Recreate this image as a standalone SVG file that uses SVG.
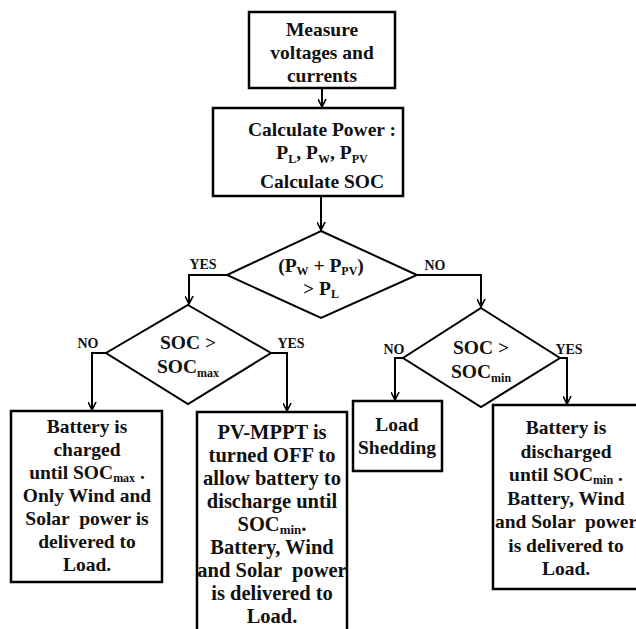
<svg xmlns="http://www.w3.org/2000/svg" width="636" height="629" viewBox="0 0 636 629">
<style>
.box{fill:#fff;stroke:#000;stroke-width:2.5}
.dia{fill:#fff;stroke:#000;stroke-width:2}
.t{font-weight:bold;font-size:19.5px;text-anchor:middle;fill:#111}
.big{font-size:20.5px}
.lbl{font-weight:bold;font-size:14px;text-anchor:middle;fill:#111}
.c{fill:none;stroke:#000;stroke-width:2}
</style>
<defs>
<marker id="ah" viewBox="0 0 10 10" refX="9" refY="5" markerWidth="9" markerHeight="9" markerUnits="userSpaceOnUse" orient="auto">
<path d="M0,0.5 L9,5 L0,9.5" fill="none" stroke="#000" stroke-width="1.8"/>
</marker>
</defs>
<rect width="636" height="629" fill="#fff"/>
<g font-family="Liberation Serif, Times New Roman, serif">
<g id="connectors">
<line class="c" x1="322" y1="88" x2="322" y2="107" marker-end="url(#ah)"/>
<line class="c" x1="321" y1="196" x2="321" y2="230" marker-end="url(#ah)"/>
<polyline class="c" points="227,275 189,275 189,304" marker-end="url(#ah)"/>
<polyline class="c" points="417,275 481,275 481,307" marker-end="url(#ah)"/>
<polyline class="c" points="106,353 92,353 92,410" marker-end="url(#ah)"/>
<polyline class="c" points="271,353 287,353 287,411" marker-end="url(#ah)"/>
<polyline class="c" points="403,358 395,358 395,400" marker-end="url(#ah)"/>
<polyline class="c" points="560,358 567,358 567,404" marker-end="url(#ah)"/>
<text class="lbl" x="203" y="269">YES</text>
<text class="lbl" x="435" y="270">NO</text>
<text class="lbl" x="88" y="348">NO</text>
<text class="lbl" x="291" y="348">YES</text>
<text class="lbl" x="394" y="354">NO</text>
<text class="lbl" x="569" y="354">YES</text>
</g>
<g id="measure">
<rect class="box" x="249" y="12" width="146" height="76"/>
<text class="t" x="322" y="36">Measure</text>
<text class="t" x="322" y="59">voltages and</text>
<text class="t" x="322" y="82">currents</text>
</g>
<g id="calculate">
<rect class="box" x="213" y="108" width="190" height="88"/>
<text class="t" x="322" y="136">Calculate Power :</text>
<text class="t" x="322" y="159">P<tspan font-size="12" dy="4">L</tspan><tspan dy="-4">, P</tspan><tspan font-size="12" dy="4">W</tspan><tspan dy="-4">, P</tspan><tspan font-size="12" dy="4">PV</tspan></text>
<text class="t" x="322" y="188">Calculate SOC</text>
</g>
<g id="decision-power">
<polygon class="dia" points="321,231 417,275 321,318 227,275"/>
<text class="t" x="321" y="272">(P<tspan font-size="12" dy="3">W</tspan><tspan dy="-3"> + P</tspan><tspan font-size="12" dy="3">PV</tspan><tspan dy="-3">)</tspan></text>
<text class="t" x="321" y="295">&gt; P<tspan font-size="12" dy="3">L</tspan></text>
</g>
<g id="decision-socmax">
<polygon class="dia" points="188,305 271,353 188,404 106,353"/>
<text class="t" x="188" y="349">SOC &gt;</text>
<text class="t" x="188" y="373">SOC<tspan font-size="12" dy="4">max</tspan></text>
</g>
<g id="decision-socmin">
<polygon class="dia" points="481,308 560,358 481,407 403,358"/>
<text class="t" x="481" y="354">SOC &gt;</text>
<text class="t" x="481" y="378">SOC<tspan font-size="12" dy="4">min</tspan></text>
</g>
<g id="charged">
<rect class="box" x="11" y="411" width="151" height="171"/>
<text class="t" x="87" y="433">Battery is</text>
<text class="t" x="87" y="456">charged</text>
<text class="t" x="87" y="479">until SOC<tspan font-size="12" dy="3">max</tspan><tspan dy="-3"> .</tspan></text>
<text class="t" x="87" y="502">Only Wind and</text>
<text class="t" x="87" y="525" style="white-space:pre">Solar  power is</text>
<text class="t" x="87" y="548">delivered to</text>
<text class="t" x="87" y="571">Load.</text>
</g>
<g id="pvmppt">
<rect class="box" x="197" y="412" width="150" height="222"/>
<text class="t big" x="272" y="439">PV-MPPT is</text>
<text class="t big" x="272" y="462">turned OFF to</text>
<text class="t big" x="272" y="485">allow battery to</text>
<text class="t big" x="272" y="508">discharge until</text>
<text class="t big" x="272" y="531">SOC<tspan font-size="13" dy="3">min</tspan><tspan dy="-3">.</tspan></text>
<text class="t big" x="272" y="554">Battery, Wind</text>
<text class="t big" x="272" y="577" style="white-space:pre">and Solar  power</text>
<text class="t big" x="272" y="600">is delivered to</text>
<text class="t big" x="272" y="623">Load.</text>
</g>
<g id="load-shedding">
<rect class="box" x="353" y="401" width="89" height="70"/>
<text class="t" x="397" y="431">Load</text>
<text class="t" x="397" y="454">Shedding</text>
</g>
<g id="discharged">
<rect class="box" x="493" y="405" width="147" height="184"/>
<text class="t" x="566" y="434">Battery is</text>
<text class="t" x="566" y="458">discharged</text>
<text class="t" x="566" y="481">until SOC<tspan font-size="12" dy="3">min</tspan><tspan dy="-3"> .</tspan></text>
<text class="t" x="566" y="505">Battery, Wind</text>
<text class="t" x="566" y="528" style="white-space:pre">and Solar  power</text>
<text class="t" x="566" y="552">is delivered to</text>
<text class="t" x="566" y="575">Load.</text>
</g>
</g>
</svg>
